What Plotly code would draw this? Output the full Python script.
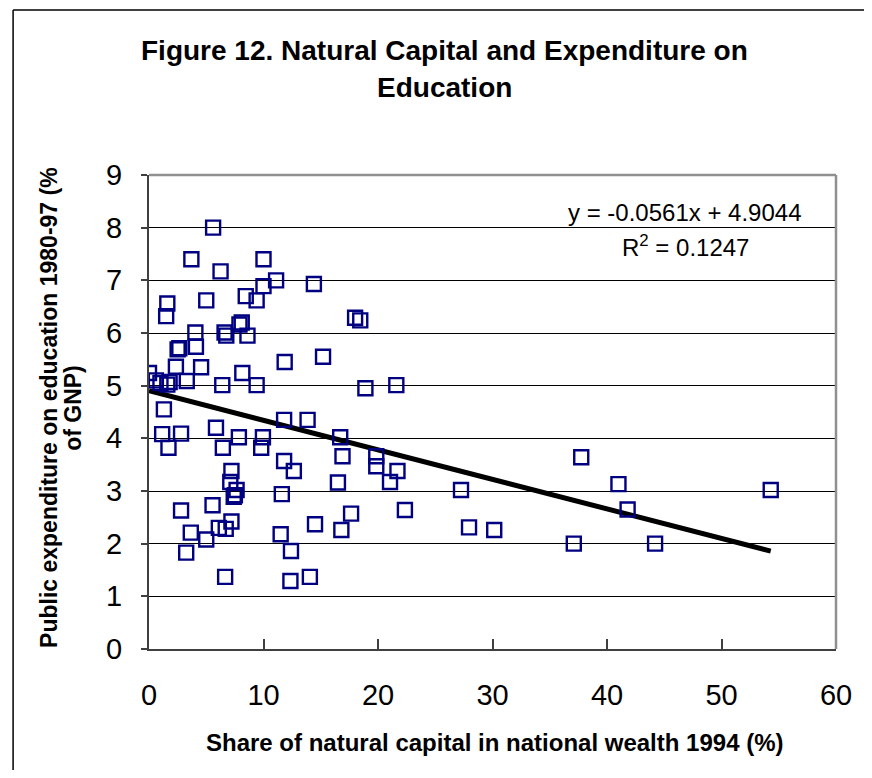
import plotly.graph_objects as go

# Data
natural_capital_share = [
    5.6, 3.7, 10.0, 6.25, 11.1, 10.0, 14.4, 1.6, 1.5, 5.0,
    8.45, 9.4, 4.05, 6.6, 6.75, 8.1, 7.9, 8.6, 2.65, 2.5,
    4.1, 11.85, 15.2, 2.35, 4.55, 0.0, 0.6, 1.0, 1.6, 1.8,
    3.3, 8.15, 6.4, 9.4, 1.3, 11.8, 13.85, 1.15, 2.8, 1.7,
    5.85, 7.85, 6.45, 9.95, 9.8, 16.7, 16.9, 11.8, 12.65, 7.2,
    7.1, 7.65, 7.5, 7.4, 11.6, 16.5, 2.8, 5.55, 7.2, 3.65,
    5.0, 6.1, 6.7, 3.25, 11.5, 12.4, 14.5, 16.8, 6.65, 12.35,
    14.05, 18.0, 18.45, 18.9, 21.6, 19.85, 19.85, 21.7, 21.05, 17.65,
    22.35, 27.25, 27.95, 30.15, 37.75, 41.0, 41.8, 37.1, 44.2, 54.3,
]
education_expenditure = [
    8.0, 7.4, 7.4, 7.17, 7.0, 6.89, 6.93, 6.56, 6.32, 6.62,
    6.7, 6.62, 6.01, 6.01, 5.95, 6.2, 6.16, 5.95, 5.71, 5.69,
    5.74, 5.45, 5.55, 5.36, 5.35, 5.24, 5.1, 5.05, 5.02, 5.07,
    5.09, 5.24, 5.01, 5.01, 4.55, 4.35, 4.35, 4.08, 4.09, 3.82,
    4.2, 4.02, 3.82, 4.02, 3.82, 4.02, 3.66, 3.57, 3.38, 3.38,
    3.17, 3.02, 2.92, 2.89, 2.94, 3.16, 2.63, 2.73, 2.42, 2.21,
    2.08, 2.3, 2.28, 1.83, 2.18, 1.86, 2.37, 2.26, 1.37, 1.29,
    1.37, 6.29, 6.24, 4.95, 5.01, 3.66, 3.47, 3.38, 3.17, 2.57,
    2.64, 3.02, 2.31, 2.26, 3.64, 3.13, 2.65, 2.0, 2.0, 3.02,
]
trend_slope = -0.0561
trend_intercept = 4.9044
r_squared = 0.1247
x_ticks = [0, 10, 20, 30, 40, 50, 60]
y_ticks = [0, 1, 2, 3, 4, 5, 6, 7, 8, 9]

FONT = "Liberation Sans, Arial, sans-serif"

trend_x = [0, max(natural_capital_share)]
trend_y = [trend_intercept + trend_slope * v for v in trend_x]

fig = go.Figure()
fig.add_trace(go.Scatter(
    x=trend_x, y=trend_y, mode="lines",
    line=dict(color="black", width=5), hoverinfo="skip", showlegend=False,
))
fig.add_trace(go.Scatter(
    x=natural_capital_share, y=education_expenditure, mode="markers",
    marker=dict(symbol="square-open", size=14, color="#000080",
                line=dict(width=2.4, color="#000080")),
    showlegend=False,
))

# page is offset by the 8px body margin; keep the figure inside the window
OFF = 8
W, H = 856, 762
L, T = 148.5 - OFF, 175 - OFF
R = W - (838.5 - OFF)
B = H - (649 - OFF)
pw, ph = W - L - R, H - T - B


def px(xp):
    return (xp - OFF - L) / pw


def py(yp):
    return (H - B - (yp - OFF)) / ph


fig.update_layout(
    width=W, height=H,
    margin=dict(l=L, r=R, t=T, b=B, pad=0),
    paper_bgcolor="white", plot_bgcolor="white",
    font=dict(family=FONT, color="black"),
    xaxis=dict(
        range=[0, 60], tickvals=x_ticks, ticks="inside", ticklen=10,
        tickcolor="#404040", tickwidth=1.5,
        showgrid=False, zeroline=False,
        showline=True, linecolor="#404040", linewidth=2,
        tickfont=dict(size=29, family=FONT), ticklabelstandoff=19,
    ),
    yaxis=dict(
        range=[0, 9], tickvals=y_ticks, ticks="outside", ticklen=6,
        tickcolor="#404040", tickwidth=1.5,
        showgrid=True, gridcolor="black", gridwidth=1, zeroline=False,
        showline=True, linecolor="#404040", linewidth=2,
        tickfont=dict(size=29, family=FONT), ticklabelstandoff=13,
    ),
    shapes=[
        dict(type="line", xref="paper", yref="paper", x0=0, x1=1, y0=1, y1=1,
             line=dict(color="#909090", width=2.5)),
        dict(type="line", xref="paper", yref="paper", x0=1, x1=1, y0=0, y1=1,
             line=dict(color="#909090", width=2.5)),
        # outer chart frame: left and top edges (right/bottom lie outside the view)
        dict(type="line", xref="paper", yref="paper",
             x0=px(12), x1=px(12), y0=py(800), y1=py(10),
             line=dict(color="black", width=1.5), layer="below"),
        dict(type="line", xref="paper", yref="paper",
             x0=px(12), x1=px(900), y0=py(10), y1=py(10),
             line=dict(color="black", width=1.5), layer="below"),
    ],
    annotations=[
        dict(text="<b>Figure 12. Natural Capital and Expenditure on</b>",
             xref="paper", yref="paper", x=px(445), y=py(50),
             xanchor="center", yanchor="middle", showarrow=False,
             font=dict(size=28, family=FONT)),
        dict(text="<b>Education</b>",
             xref="paper", yref="paper", x=px(445), y=py(87),
             xanchor="center", yanchor="middle", showarrow=False,
             font=dict(size=28, family=FONT)),
        dict(text="<b>Share of natural capital in national wealth 1994 (%)</b>",
             xref="paper", yref="paper", x=px(495.5), y=py(742),
             xanchor="center", yanchor="middle", showarrow=False,
             font=dict(size=24, family=FONT)),
        dict(text="<b>Public expenditure on education 1980-97 (%</b>",
             xref="paper", yref="paper", x=px(48), y=py(407),
             xanchor="center", yanchor="middle", showarrow=False, textangle=-90,
             font=dict(size=23, family=FONT)),
        dict(text="<b>of GNP)</b>",
             xref="paper", yref="paper", x=px(72), y=py(408),
             xanchor="center", yanchor="middle", showarrow=False, textangle=-90,
             font=dict(size=23, family=FONT)),
        dict(text=f"y = {trend_slope:.4f}x + {trend_intercept:.4f}",
             xref="paper", yref="paper", x=px(806), y=py(212),
             xanchor="right", yanchor="middle", showarrow=False,
             font=dict(size=24, family=FONT)),
        dict(text=f"R<sup>2</sup> = {r_squared:.4f}",
             xref="paper", yref="paper", x=px(687), y=py(246),
             xanchor="center", yanchor="middle", showarrow=False,
             font=dict(size=24, family=FONT)),
    ],
)

fig.write_html("out.html")
